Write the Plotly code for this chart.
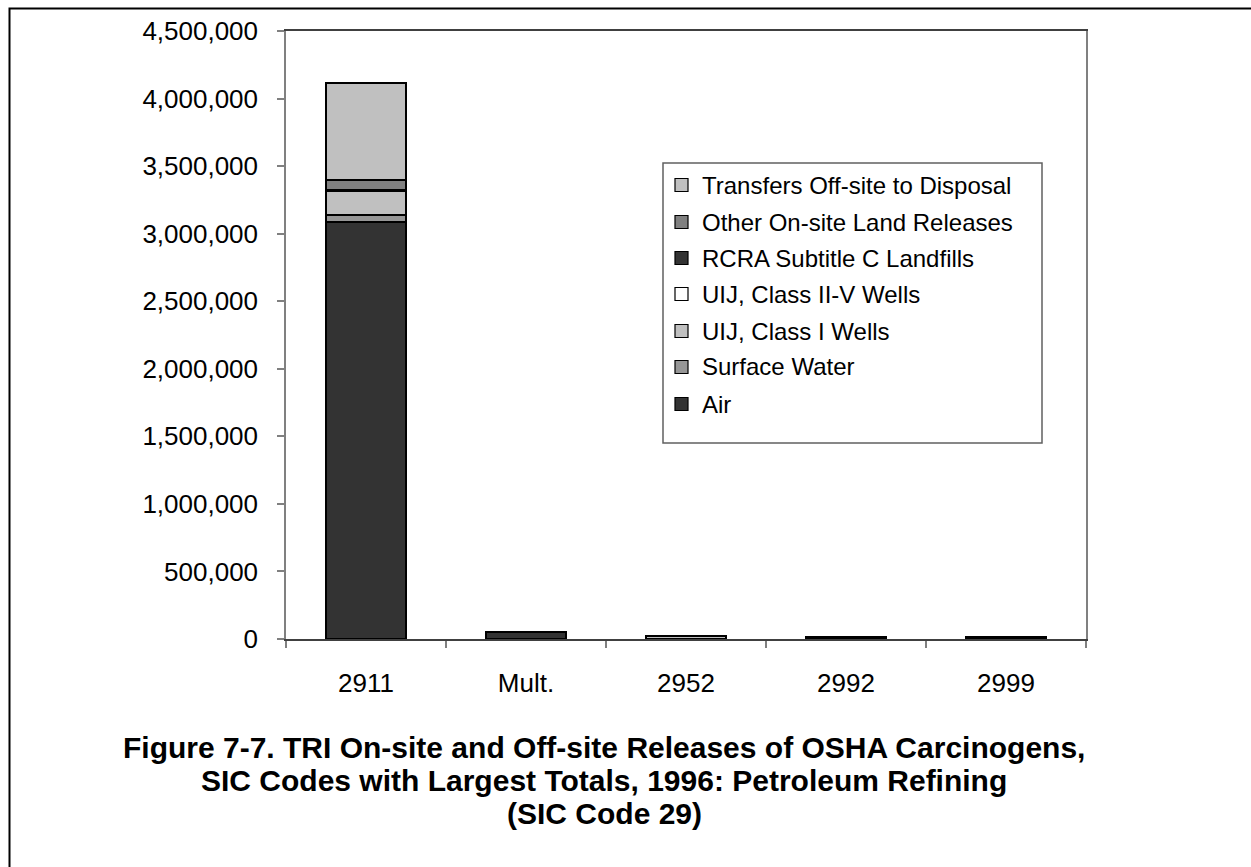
import plotly.graph_objects as go

# SIC codes and release categories (pounds)
sic_codes = ["2911", "Mult.", "2952", "2992", "2999"]

series_names = [
    "Air",
    "Surface Water",
    "UIJ, Class I Wells",
    "UIJ, Class II-V Wells",
    "RCRA Subtitle C Landfills",
    "Other On-site Land Releases",
    "Transfers Off-site to Disposal",
]
series_colors = ["#333333", "#969696", "#c0c0c0", "#ffffff", "#333333", "#808080", "#c0c0c0"]

air = [3090000, 50000, 0, 18000, 0]
surface_water = [50000, 0, 0, 0, 0]
uij_class_i = [178000, 0, 0, 0, 0]
uij_class_ii_v = [0, 0, 0, 0, 0]
rcra_landfills = [2000, 0, 0, 0, 0]
other_land = [75000, 0, 0, 0, 0]
transfers_disposal = [720000, 0, 20000, 0, 17000]

series_values = [air, surface_water, uij_class_i, uij_class_ii_v,
                 rcra_landfills, other_land, transfers_disposal]

y_ticks = list(range(0, 4500001, 500000))

W, H = 1251, 867
PL, PR, PT, PB = 286, 1086, 31, 639  # plot area in pixels


def px(x):
    return (x - PL) / (PR - PL)


def py(y):
    return (PB - y) / (PB - PT)


FONT = "Liberation Sans, Arial, sans-serif"

fig = go.Figure()
for name, color, vals in zip(series_names, series_colors, series_values):
    fig.add_trace(go.Bar(
        x=sic_codes, y=vals, name=name,
        marker=dict(color=color, line=dict(color="#000000", width=2)),
        width=0.5, showlegend=False,
    ))

fig.update_layout(
    width=W, height=H,
    barmode="stack",
    plot_bgcolor="#ffffff", paper_bgcolor="#ffffff",
    margin=dict(l=PL, r=W - PR, t=PT, b=H - PB, pad=0),
    font=dict(family=FONT, size=26, color="#000000"),
)
fig.update_yaxes(
    range=[0, 4500000], tickvals=y_ticks, tickformat=",",
    showgrid=False, zeroline=False,
    showline=True, linecolor="#808080", linewidth=1.5, mirror=True,
    ticks="outside", ticklen=7, tickcolor="#808080", tickwidth=1.5,
    ticklabelstandoff=14,
    tickfont=dict(size=26),
)
fig.update_xaxes(
    showgrid=False, showline=True, linecolor="#404040", linewidth=1.5, mirror=True,
    ticks="outside", ticklen=7, tickcolor="#808080", tickwidth=1.5,
    tickson="boundaries", ticklabelstandoff=20,
    tickfont=dict(size=26),
)

shapes = []
annotations = []

# outer frame
shapes.append(dict(type="rect", xref="paper", yref="paper",
                   x0=px(9.5), x1=px(1300), y0=py(8.5), y1=py(920),
                   line=dict(color="#000000", width=2), fillcolor="rgba(0,0,0,0)"))

# legend box
shapes.append(dict(type="rect", xref="paper", yref="paper",
                   x0=px(663), x1=px(1042), y0=py(163), y1=py(443),
                   line=dict(color="#606060", width=1.5), fillcolor="#ffffff"))

row_y = [185, 222, 258, 294, 331, 367, 404]
legend_order = list(range(len(series_names)))[::-1]
for ry, idx in zip(row_y, legend_order):
    shapes.append(dict(type="rect", xref="paper", yref="paper",
                       x0=px(675), x1=px(688), y0=py(ry - 6.5), y1=py(ry + 6.5),
                       line=dict(color="#000000", width=1.2),
                       fillcolor=series_colors[idx]))
    annotations.append(dict(xref="paper", yref="paper", x=px(700), y=py(ry),
                            xanchor="left", yanchor="middle", showarrow=False,
                            text=series_names[idx],
                            font=dict(family=FONT, size=24, color="#000000")))

# figure caption
caption = ["Figure 7-7. TRI On-site and Off-site Releases of OSHA Carcinogens,",
           "SIC Codes with Largest Totals, 1996: Petroleum Refining",
           "(SIC Code 29)"]
for i, line in enumerate(caption):
    annotations.append(dict(xref="paper", yref="paper", x=px(604), y=py(747 + 33 * i),
                            xanchor="center", yanchor="middle", showarrow=False,
                            text="<b>" + line + "</b>",
                            font=dict(family=FONT, size=30, color="#000000")))

fig.update_layout(shapes=shapes, annotations=annotations)
fig.write_html("out.html")
